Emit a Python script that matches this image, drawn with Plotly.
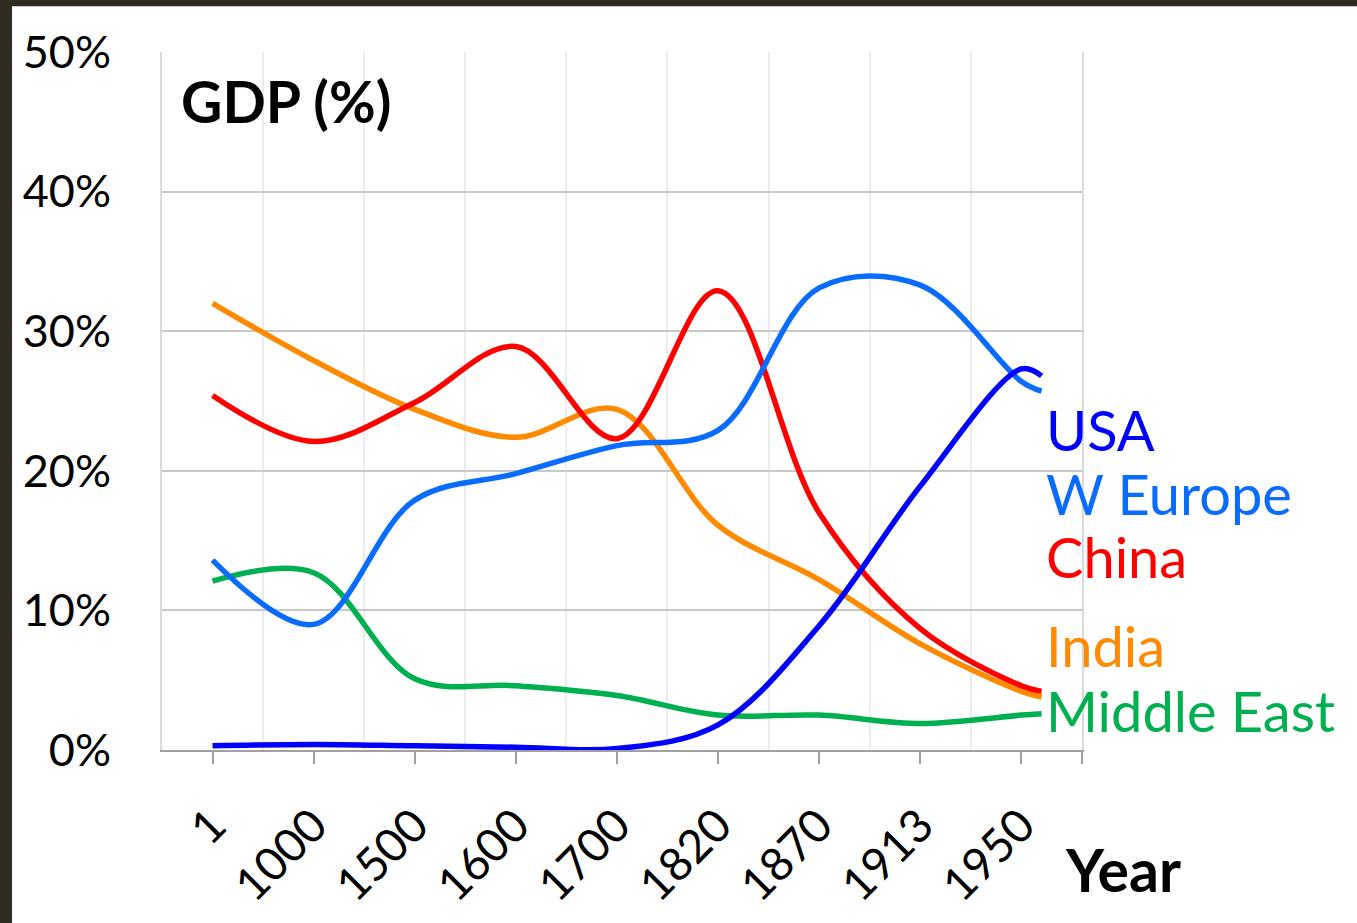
import plotly.graph_objects as go

# Share of world GDP (%) by region, Maddison-style benchmark years
years = ["1", "1000", "1500", "1600", "1700", "1820", "1870", "1913", "1950"]
x_idx = [0, 1, 2, 3, 4, 5, 6, 7, 8, 8.2]  # category index; last point is the line end after 1950

china = [25.4, 22.1, 24.9, 28.9, 22.3, 32.9, 17.0, 8.7, 4.6, 4.2]
india = [32.0, 27.9, 24.4, 22.4, 24.4, 16.1, 12.2, 7.6, 4.2, 3.8]
w_europe = [13.6, 9.0, 17.9, 19.8, 21.8, 22.9, 33.1, 33.3, 26.4, 25.7]
usa = [0.3, 0.4, 0.3, 0.2, 0.1, 1.8, 8.9, 18.9, 27.3, 26.8]
middle_east = [12.1, 12.7, 5.1, 4.6, 3.9, 2.5, 2.5, 1.9, 2.5, 2.6]

y_ticks = [0, 10, 20, 30, 40, 50]

series = [
    ("Middle East", middle_east, "#00b050"),
    ("India", india, "#ff8a00"),
    ("China", china, "#ff0000"),
    ("W Europe", w_europe, "#0a6cff"),
    ("USA", usa, "#0000ff"),
]

FONT = "Lato"

fig = go.Figure()
for name, vals, color in series:
    fig.add_trace(go.Scatter(
        x=x_idx, y=vals, mode="lines", name=name,
        line=dict(color=color, width=5.5, shape="spline", smoothing=1.0),
        showlegend=False,
    ))

# End-of-line labels
label_pos = {
    "USA": 0.459,
    "W Europe": 0.368,
    "China": 0.277,
    "India": 0.149,
    "Middle East": 0.057,
}
for name, vals, color in series:
    fig.add_annotation(
        text=name, xref="paper", yref="paper", x=0.959, y=label_pos[name],
        xanchor="left", yanchor="middle", showarrow=False,
        font=dict(family=FONT, size=56, color=color),
    )

fig.add_annotation(
    text="<b>GDP (%)</b>", xref="paper", yref="paper", x=0.0185, y=0.93,
    xanchor="left", yanchor="middle", showarrow=False,
    font=dict(family=FONT, size=57, color="black"),
)
fig.add_annotation(
    text="<b>Year</b>", xref="paper", yref="paper", x=0.9795, y=-0.171,
    xanchor="left", yanchor="middle", showarrow=False,
    font=dict(family=FONT, size=59, color="black"),
)

# Dark slide frame along the top and left edges
frame = "#2f2b20"
fig.add_shape(type="rect", xref="paper", yref="paper", layer="above",
              x0=-0.1761, x1=-0.163, y0=-0.25, y1=1.08,
              fillcolor=frame, line=dict(width=0))
fig.add_shape(type="rect", xref="paper", yref="paper", layer="above",
              x0=-0.18, x1=1.30, y0=1.0657, y1=1.08,
              fillcolor=frame, line=dict(width=0))

# Light separators between the year categories
boundaries = [i + 0.5 for i in range(len(years) - 1)]

fig.update_xaxes(
    range=[-0.5, 8.6],
    tickmode="array",
    tickvals=list(range(len(years))) + [8.6],
    ticktext=years + [""],
    tickangle=-45,
    ticks="outside", ticklen=12, tickwidth=2, tickcolor="#a0a0a0",
    ticklabelstandoff=16,
    tickfont=dict(family=FONT, size=46, color="black"),
    showgrid=False,
    minor=dict(tickmode="array", tickvals=boundaries, showgrid=True,
               gridcolor="#ececec", gridwidth=2, ticks="", ticklen=0),
    showline=True, linecolor="#a0a0a0", linewidth=2,
    zeroline=False,
)
fig.update_yaxes(
    range=[0, 50],
    tickmode="array",
    tickvals=y_ticks,
    ticktext=[f"{v}%" for v in y_ticks],
    ticks="",
    ticklabelstandoff=40,
    tickfont=dict(family=FONT, size=45, color="black"),
    showgrid=True, gridcolor="#c8c8c8", gridwidth=2,
    showline=True, linecolor="#dadada", linewidth=2, mirror=True,
    zeroline=False,
)

fig.update_layout(
    width=1357, height=923, autosize=False,
    margin=dict(l=162, r=275, t=52, b=171),
    paper_bgcolor="white", plot_bgcolor="white",
)

fig.write_html("out.html")
